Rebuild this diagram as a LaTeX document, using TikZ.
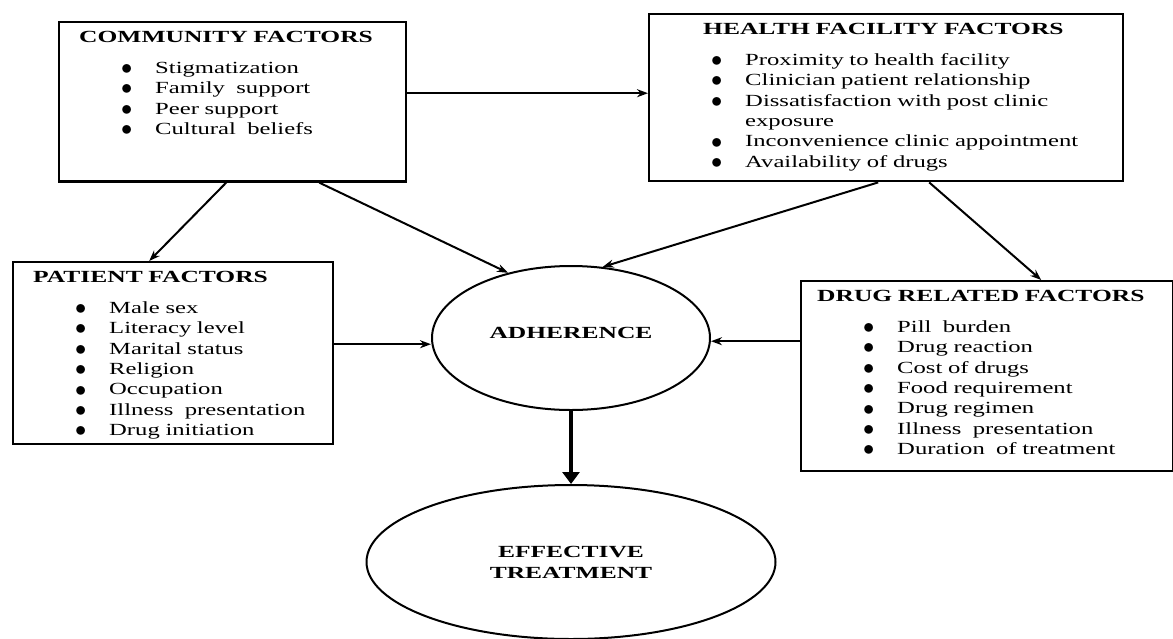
\documentclass[tikz,border=0pt]{standalone}
\usepackage{fontspec}
\setmainfont{Liberation Serif}[FakeStretch=1.45]
\newfontfamily\headfont{Liberation Serif}[FakeStretch=1.5]
\usepackage{tikz}
\usetikzlibrary{positioning,arrows.meta,shapes.geometric}
\newcommand{\boxtitle}[2]{\rule{0pt}{20pt}\hspace*{#1}{\headfont\bfseries #2}}
\newcommand{\fitem}[1]{\hspace*{62pt}\makebox[34pt][l]{\raisebox{-1.2pt}{\scalebox{1.3}{$\bullet$}}}#1}
\newcommand{\fmore}[1]{\hspace*{96pt}#1}
\newcommand{\boxend}[1]{\rule[-#1]{0pt}{#1}}
\tikzset{factorbox/.style={rectangle, draw=black, line width=2.4pt, inner sep=0pt,
  anchor=north west, align=left, font=\fontsize{17}{20.4}\selectfont}}
\tikzset{outcome/.style={ellipse, draw=black, line width=2pt, inner sep=0pt,
  align=center, font=\headfont\bfseries\fontsize{17}{21}\selectfont}}
\tikzset{link/.style={-{Stealth[length=11pt,width=8pt]}, line width=2pt}}
\tikzset{mainlink/.style={-{Triangle[length=12pt,width=17pt]}, line width=4pt}}
\begin{document}
\begin{tikzpicture}[x=1pt, y=-1pt, >=Stealth, node distance=73pt]
  \useasboundingbox (0,0) rectangle (1173,638);
  \node[factorbox, text width=347pt] (community) at (58,21)
    {\boxtitle{20pt}{COMMUNITY FACTORS}\\[10.6pt]
     \fitem{Stigmatization}\\ \fitem{Family\ \ support}\\ \fitem{Peer support}\\
     \fitem{Cultural\ \ beliefs}\boxend{47pt}};
  \node[factorbox, text width=474pt] (health) at (648,13)
    {\boxtitle{54pt}{HEALTH FACILITY FACTORS}\\[10.6pt]
     \fitem{Proximity to health facility}\\ \fitem{Clinician patient relationship}\\
     \fitem{Dissatisfaction with post clinic}\\ \fmore{exposure}\\
     \fitem{Inconvenience clinic appointment}\\ \fitem{Availability of drugs}\boxend{14pt}};
  \node[factorbox, text width=320pt] (patient) at (12,261)
    {\boxtitle{20pt}{PATIENT FACTORS}\\[10.6pt]
     \fitem{Male sex}\\ \fitem{Literacy level}\\ \fitem{Marital status}\\ \fitem{Religion}\\
     \fitem{Occupation}\\ \fitem{Illness\ \ presentation}\\ \fitem{Drug initiation}\boxend{8.6pt}};
  \node[factorbox, text width=372pt] (drug) at (800,280)
    {\boxtitle{16pt}{DRUG RELATED FACTORS}\\[10.6pt]
     \fitem{Pill\ \ burden}\\ \fitem{Drug reaction}\\ \fitem{Cost of drugs}\\
     \fitem{Food requirement}\\ \fitem{Drug regimen}\\ \fitem{Illness\ \ presentation}\\
     \fitem{Duration\ \ of treatment}\boxend{16.6pt}};
  \node[outcome, minimum width=278pt, minimum height=144pt, text height=12pt, text depth=12pt]
    (adherence) at (571,338) {ADHERENCE};
  \node[outcome, minimum width=409pt, minimum height=154pt, below=73pt of adherence]
    (effective) {EFFECTIVE\\TREATMENT};
  \draw[link] ([yshift=8.6pt]community.east) -- ([yshift=8.6pt]community.east -| health.west);
  \draw[link] ([xshift=-6.5pt]community.south) -- ([xshift=-24pt]patient.north);
  \draw[link] ([xshift=86.5pt]community.south) -- (adherence.134);
  \draw[link] ([xshift=-8pt]health.south) -- (adherence.66);
  \draw[link] ([xshift=43pt]health.south) -- ([xshift=54pt]drug.north);
  \draw[link] ([yshift=9pt]patient.east) -- ([yshift=9pt]patient.east -| adherence.west);
  \draw[link] ([yshift=35pt]drug.west) -- ([yshift=35pt]drug.west -| adherence.east);
  \draw[mainlink] (adherence) -- (effective);
\end{tikzpicture}
\end{document}
